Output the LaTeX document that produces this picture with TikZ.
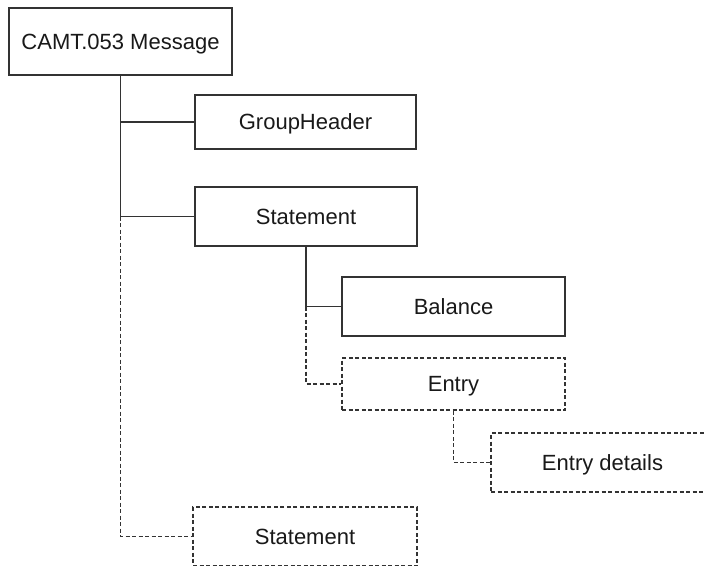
\documentclass[tikz,border=0pt]{standalone}
\usepackage{fontspec}
\setmainfont{Liberation Sans}
\begin{document}
\begin{tikzpicture}[x=1pt,y=-1pt,
  solidbox/.style={draw=black!80,line width=1.5pt,inner sep=0pt,font=\fontsize{22}{26}\selectfont,text=black!90,text height=15.8pt,text depth=0pt},
  dbox/.style={solidbox,dash pattern=on 4pt off 2.5pt},
  link/.style={draw=black!80,line width=1.8pt},
  dlink/.style={link,dash pattern=on 4pt off 2.5pt}]
\clip (0,0) rectangle (704,565);
\fill[white] (0,0) rectangle (704,565);
\node[solidbox,minimum width=223pt,minimum height=67pt] (camt) at (120.5,41.5) {CAMT.053 Message};
\node[solidbox,minimum width=221pt,minimum height=54pt] (gh) at (305.5,122) {GroupHeader};
\node[solidbox,minimum width=222pt,minimum height=59pt] (st1) at (306,216.5) {Statement};
\node[solidbox,minimum width=223pt,minimum height=59pt] (bal) at (453.5,306.5) {Balance};
\node[dbox,minimum width=223pt,minimum height=52pt] (entry) at (453.5,384) {Entry};
\node[dbox,minimum width=223pt,minimum height=59pt] (ed) at (602.5,462.5) {Entry details};
\node[dbox,minimum width=224pt,minimum height=59pt] (st2) at (305,536.5) {Statement};
\draw[link] (camt.south) |- (st1.west);
\draw[link] (camt.south |- gh.west) -- (gh.west);
\draw[dlink] (camt.south |- st1.west) |- (st2.west);
\draw[link] (st1.south) |- (bal.west);
\draw[dlink] (st1.south |- bal.west) |- (entry.west);
\draw[dlink] (entry.south) |- (ed.west);
\end{tikzpicture}
\end{document}
